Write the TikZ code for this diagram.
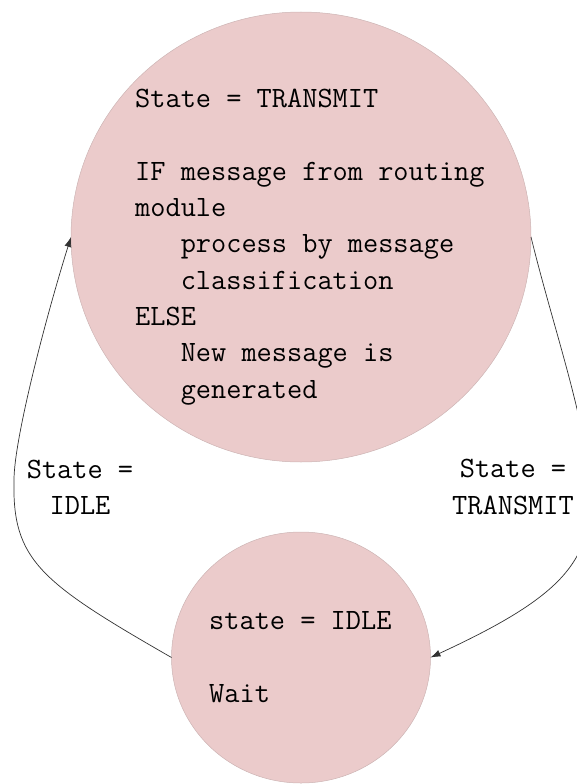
\documentclass[tikz,border=0pt]{standalone}
\usepackage{fontspec}
\setmonofont{Latin Modern Mono}
\usetikzlibrary{shapes.geometric,arrows.meta}
\definecolor{statefill}{RGB}{235,203,203}
\definecolor{stateline}{RGB}{205,180,180}
\definecolor{wire}{RGB}{50,50,50}
\begin{document}
\begin{tikzpicture}[x=1pt,y=-1pt,
  statenode/.style={ellipse, fill=statefill, draw=stateline, line width=0.5pt,
    inner sep=0pt, outer sep=0pt},
  monotext/.style={font=\ttfamily\fontsize{29.5}{36.3}\selectfont, inner sep=0pt},
  body/.style={monotext, align=left, anchor=base west},
  edgelabel/.style={monotext, align=center, anchor=base},
  wirestyle/.style={draw=wire, line width=0.7pt, -{Latex[length=10pt,width=7pt]}}]
\useasboundingbox (0,0) rectangle (577,784);

% the two states
\node[statenode, minimum width=460pt, minimum height=450pt] (tx) at (301,237) {};
\node[statenode, minimum width=259pt, minimum height=251pt] (idle) at (301,657.5) {};

% state descriptions (placed by the baseline of their last line)
\node[body] (txtext) at (135,398) {State = TRANSMIT\\[36.3pt]
IF message from routing\\
module\\
\hphantom{xxx}process by message\\
\hphantom{xxx}classification\\
ELSE\\
\hphantom{xxx}New message is\\
\hphantom{xxx}generated};
\node[body] (idletext) at (209,702) {state = IDLE\\[36.3pt]Wait};

% transitions
\coordinate (lbend) at (14,480);
\coordinate (rbend) at (590,500);
\draw[wirestyle] (idle.west) .. controls (40,582) and (12,560) .. (lbend)
  .. controls (14,440) and (45,320) .. (tx.west);
\draw[wirestyle] (tx.east) .. controls (555,335) and (590,430) .. (rbend)
  .. controls (590,565) and (555,600) .. (idle.east);

\node[edgelabel] (lbl) at (80,514.5) {State =\\IDLE};
\node[edgelabel] (rbl) at (513,514) {State =\\TRANSMIT};
\end{tikzpicture}
\end{document}
